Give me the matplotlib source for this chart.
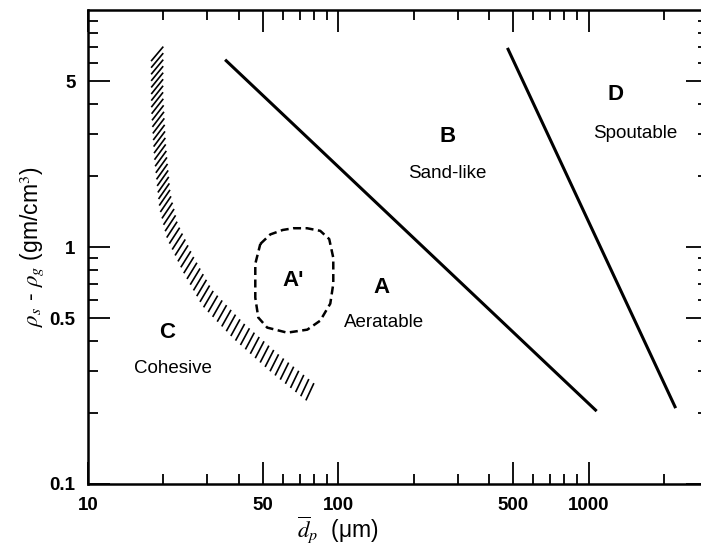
import numpy as np
import matplotlib
matplotlib.use('Agg')
import matplotlib.pyplot as plt
from matplotlib.collections import LineCollection
from matplotlib.transforms import IdentityTransform
from matplotlib.ticker import FixedLocator, FixedFormatter, NullFormatter

plt.rcParams['font.family'] = ['Liberation Sans', 'DejaVu Sans']
plt.rcParams['mathtext.fontset'] = 'stix'

# ---- data ----
# A/B boundary
ab_x = [35.3, 1077]
ab_y = [6.17, 0.203]
# B/D boundary
bd_x = [474, 2228]
bd_y = [6.92, 0.209]
# C/A boundary (hatched band centre line)
ca_x = [18.9, 18.9, 19.4, 20.3, 21.7, 25.1, 29.9, 39.8, 56.0, 77.0]
ca_y = [6.53, 4.10, 2.53, 1.56, 1.17, 0.849, 0.611, 0.444, 0.322, 0.245]
# A' region outline
ap_x = [48.8, 53.5, 60.0, 66.1, 75.0, 84.7, 92.0, 95.5, 95.5, 92.9, 84.7, 75.2, 62.5, 52.0, 47.9, 46.6, 46.6, 48.8]
ap_y = [1.03, 1.13, 1.18, 1.20, 1.20, 1.17, 1.08, 0.90, 0.70, 0.577, 0.489, 0.448, 0.435, 0.457, 0.504, 0.611, 0.849, 1.03]

x_major = [10, 50, 100, 500, 1000]
x_major_labels = ['10', '50', '100', '500', '1000']
x_minor = [20, 30, 40, 60, 70, 80, 90, 200, 300, 400, 600, 700, 800, 900, 2000]
y_major = [0.1, 0.5, 1, 5]
y_major_labels = ['0.1', '0.5', '1', '5']
y_minor = [0.2, 0.3, 0.4, 0.6, 0.7, 0.8, 0.9, 2, 3, 4, 6, 7, 8, 9]

# region labels
big_labels = [(66.1, 0.72, "A'"), (148.6, 0.673, 'A'), (273, 2.93, 'B'),
              (20.7, 0.435, 'C'), (1282, 4.40, 'D')]
small_labels = [(152.8, 0.480, 'Aeratable'), (273, 2.05, 'Sand-like'),
                (21.9, 0.307, 'Cohesive'), (1542, 3.01, 'Spoutable')]

W, H = 701, 550
fig = plt.figure(figsize=(W / 100, H / 100), dpi=100)
ax = fig.add_axes([88 / W, 66 / H, 620 / W, 474 / H])
ax.set_xscale('log')
ax.set_yscale('log')
ax.set_xlim(10, 3000)
ax.set_ylim(0.1, 10)

ax.xaxis.set_major_locator(FixedLocator(x_major))
ax.xaxis.set_major_formatter(FixedFormatter(x_major_labels))
ax.xaxis.set_minor_locator(FixedLocator(x_minor))
ax.xaxis.set_minor_formatter(NullFormatter())
ax.yaxis.set_major_locator(FixedLocator(y_major))
ax.yaxis.set_major_formatter(FixedFormatter(y_major_labels))
ax.yaxis.set_minor_locator(FixedLocator(y_minor))
ax.yaxis.set_minor_formatter(NullFormatter())

ax.tick_params(which='both', direction='in', top=True, right=True, width=1.3,
               labelsize=13.5, pad=9)
ax.tick_params(which='major', length=15.5)
ax.tick_params(which='minor', length=7)
for lab in ax.get_xticklabels() + ax.get_yticklabels():
    lab.set_fontweight('bold')
for sp in ax.spines.values():
    sp.set_linewidth(1.8)

# boundaries
ax.plot(ab_x, ab_y, color='black', lw=2.2, solid_capstyle='butt')
ax.plot(bd_x, bd_y, color='black', lw=2.2, solid_capstyle='butt')
ax.plot(ap_x, ap_y, color='black', lw=1.8, linestyle=(0, (3.2, 1.8)),
        solid_joinstyle='round')

# hatched band along C/A boundary
P = ax.transData.transform(np.column_stack([ca_x, ca_y]))
seg = np.diff(P, axis=0)
s = np.concatenate([[0], np.cumsum(np.hypot(seg[:, 0], seg[:, 1]))])
S = s[-1]
n = int(S / 6.4)
ss = np.linspace(0, S, n)
cx = np.interp(ss, s, P[:, 0])
cy = np.interp(ss, s, P[:, 1])
ang = np.radians(50 + 15 * ss / S)
L = 19
dx = np.cos(ang) * L / 2
dy = np.sin(ang) * L / 2
segs = [[(x - a, y - b), (x + a, y + b)] for x, y, a, b in zip(cx, cy, dx, dy)]
lc = LineCollection(segs, colors='black', linewidths=1.2, transform=IdentityTransform())
ax.add_collection(lc, autolim=False)

for x, y, t in big_labels:
    ax.text(x, y, t, ha='center', va='center', fontsize=16, fontweight='bold')
for x, y, t in small_labels:
    ax.text(x, y, t, ha='center', va='center', fontsize=13.5)

ax.set_ylabel(r'$\rho_s$ - $\rho_g$ (gm/cm$^3$)', fontsize=16.5)
ax.yaxis.set_label_coords(-0.068, 0.5)
ax.set_xlabel(r'$\overline{d}_p$  (μm)', fontsize=16.5)
ax.xaxis.set_label_coords(0.403, -0.066)

fig.savefig('out.png', dpi=100)
